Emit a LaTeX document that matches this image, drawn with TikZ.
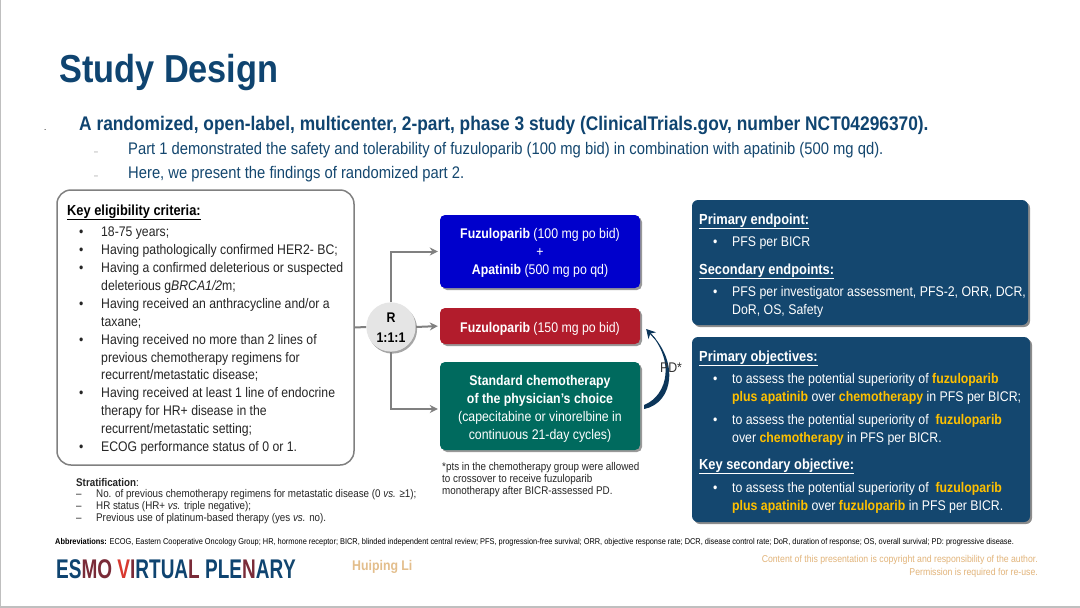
\documentclass[tikz,border=0pt]{standalone}
\usepackage{fontspec}
\setmainfont[FakeStretch=0.88]{Liberation Sans}
\usepackage{array}
\usetikzlibrary{arrows.meta,calc,positioning,shadows}
\definecolor{slidenavy}{HTML}{14476F}
\definecolor{titlenavy}{HTML}{0F4470}
\definecolor{armblue}{HTML}{0000CC}
\definecolor{armred}{HTML}{B21C2C}
\definecolor{armgreen}{HTML}{006A5E}
\definecolor{armgray}{HTML}{808080}
\definecolor{gold}{HTML}{FFC000}
\definecolor{paletan}{HTML}{E3BE8C}
\definecolor{copytan}{HTML}{E2B47A}
\definecolor{logored}{HTML}{D8392F}
\definecolor{logodark}{HTML}{7A2B38}
\newcommand{\fsz}[2]{\fontsize{#1}{#2}\selectfont}
\newcommand{\gld}[1]{\textbf{\textcolor{gold}{#1}}}
\newcommand{\lc}[2]{\textcolor{#1}{#2}}
\newcommand{\nudge}[2]{\raisebox{-#1}[\height][\depth]{\begin{tabular}{@{}c@{}}#2\end{tabular}}}
\tikzset{
  txt/.style={inner sep=0pt,anchor=north west,align=left},
  armbox/.style={rounded corners=5pt,minimum width=200pt,text=white,align=center,inner sep=0pt,
    drop shadow={shadow xshift=2pt,shadow yshift=-2pt,fill=black,opacity=.4}},
  panel/.style={rounded corners=6pt,fill=slidenavy,
    drop shadow={shadow xshift=2pt,shadow yshift=-2pt,fill=black,opacity=.45}},
  armline/.style={armgray,line width=2pt,-{Stealth[length=8pt,width=8pt]},shorten >=2pt},
}
\begin{document}
\begin{tikzpicture}[x=1pt,y=-1pt]
  \useasboundingbox (0,0) rectangle (1080,608);
  \fill[white] (0,0) rectangle (1080,608);
  \fill[black!25] (0,0) rectangle (1,608);
  \fill[black!25] (0,606) rectangle (1080,608);
  % heading block
  \node[txt,anchor=base west,text=titlenavy,font=\fsz{39}{44}\bfseries] (title) at (59,82) {Study Design};
  \node[txt,anchor=base west,text=titlenavy,font=\fsz{19.7}{22}\bfseries] (lead) at (79,130)
    {A randomized, open-label, multicenter, 2-part, phase 3 study (ClinicalTrials.gov, number NCT04296370).};
  \node[txt,anchor=base west,font=\fsz{9}{10}] (leaddot) at (44,130) {.};
  \node[txt,anchor=base west,text=slidenavy,font=\fsz{16.8}{20}] (subone) at (128,154)
    {Part 1 demonstrated the safety and tolerability of fuzuloparib (100 mg bid) in combination with apatinib (500 mg qd).};
  \node[txt,anchor=base west,text=slidenavy,font=\fsz{16.8}{20}] (subtwo) at (128,178)
    {Here, we present the findings of randomized part 2.};
  \node[txt,anchor=base west,text=black!45,font=\fsz{8}{10}] (dashone) at (94,154) {--};
  \node[txt,anchor=base west,text=black!45,font=\fsz{8}{10}] (dashtwo) at (94,178) {--};
  % eligibility box
  \node[draw=armgray,line width=1.5pt,rounded corners=14pt,minimum width=297pt,minimum height=275pt,inner sep=0pt]
    (critbox) at (205.5,327.5) {};
  \node[txt,anchor=base west,font=\fsz{14.6}{18}\bfseries] (crithead) at (67,215) {\underline{Key eligibility criteria:}};
  \node[txt,text=black!85,font=\fsz{13.9}{17.9}] (critlist) at (79,224)
    {\begin{tabular}{@{}p{22pt}@{}l@{}}
      \textbullet & 18-75 years;\\
      \textbullet & Having pathologically confirmed HER2- BC;\\
      \textbullet & Having a confirmed deleterious or suspected\\
                  & deleterious g\textit{BRCA1/2}m;\\
      \textbullet & Having received an anthracycline and/or a\\
                  & taxane;\\
      \textbullet & Having received no more than 2 lines of\\
                  & previous chemotherapy regimens for\\
                  & recurrent/metastatic disease;\\
      \textbullet & Having received at least 1 line of endocrine\\
                  & therapy for HR+ disease in the\\
                  & recurrent/metastatic setting;\\
      \textbullet & ECOG performance status of 0 or 1.
    \end{tabular}};
  % arms
  \node[circle,fill=black!10,minimum size=48pt,inner sep=0pt,align=center,font=\fsz{14}{20}\bfseries,
    drop shadow={shadow xshift=1.5pt,shadow yshift=-2pt,fill=black,opacity=.35}] (randnode) at (391,327)
    {\nudge{1.5pt}{R\\1:1:1}};
  \node[armbox,fill=armblue,minimum height=73pt,font=\fsz{14}{18}] (combobox) at (540,251.5)
    {\nudge{1pt}{\textbf{Fuzuloparib} (100 mg po bid)\\+\\\textbf{Apatinib} (500 mg po qd)}};
  \node[armbox,fill=armred,minimum height=36pt,font=\fsz{14}{18}] (fuzubox) at (540,326)
    {\nudge{2.5pt}{\textbf{Fuzuloparib} (150 mg po bid)}};
  \node[armbox,fill=armgreen,minimum height=88pt,font=\fsz{14}{18}] (chemobox) at (540,406)
    {\nudge{3pt}{\textbf{Standard chemotherapy}\\\textbf{of the physician’s choice}\\(capecitabine or vinorelbine in\\continuous 21-day cycles)}};
  \draw[armgray,line width=2pt] (critbox.east) -- (randnode.west);
  \draw[armline] (randnode.north) |- (combobox.west);
  \draw[armline] (randnode.east) -- (fuzubox.west);
  \draw[armline] (randnode.south) |- ([yshift=-3pt]chemobox.west);
  % crossover arrow, heavier where it leaves the chemotherapy box
  \coordinate (pdstart) at ([xshift=4pt,yshift=-3pt]chemobox.east);
  \coordinate (pdend) at ([xshift=6pt,yshift=-3pt]fuzubox.east);
  \fill[titlenavy!80!black] (pdstart) .. controls ($(pdstart)+(30,-6)$) and ($(pdend)+(34,30)$) .. (pdend)
    .. controls ($(pdend)+(30,30)$) and ($(pdstart)+(24,-14)$) .. ($(pdstart)+(0,-4)$) -- cycle;
  \draw[titlenavy!80!black,line width=1pt,-{Stealth[length=9pt,width=10pt]}]
    ($(pdend)+(9,10)$) -- (pdend);
  \node[inner sep=0pt,anchor=center,font=\fsz{14}{18},text=black!80] (pdlabel) at (671,368) {PD*};
  \node[txt,text=black!85,font=\fsz{11.2}{12}] (crossnote) at (442,462.5)
    {*pts in the chemotherapy group were allowed\\to crossover to receive fuzuloparib\\monotherapy after BICR-assessed PD.};
  % stratification
  \node[txt,text=black!85,font=\fsz{11.15}{11.6}] (stratlist) at (76,478)
    {\begin{tabular}{@{}p{20pt}@{}l@{}}
      \multicolumn{2}{@{}l@{}}{\textbf{Stratification}:}\\
      -- & No. of previous chemotherapy regimens for metastatic disease (0 \textit{vs.} ≥1);\\
      -- & HR status (HR+ \textit{vs.} triple negative);\\
      -- & Previous use of platinum-based therapy (yes \textit{vs.} no).
    \end{tabular}};
  % endpoint panel
  \node[panel,minimum width=336pt,minimum height=125pt,inner sep=0pt] (endpanel) at (860,262.5) {};
  \node[panel,minimum width=338pt,minimum height=185pt,inner sep=0pt] (objpanel) at (861,429.5) {};
  \tikzset{phead/.style={txt,anchor=base west,text=white,font=\fsz{14.6}{18}\bfseries},
    plist/.style={txt,text=white,font=\fsz{14}{18}}}
  \node[phead] (pendhead) at (699,224) {\underline{Primary endpoint:}};
  \node[plist] (pendlist) at (713,234)
    {\begin{tabular}{@{}p{19pt}@{}l@{}}\textbullet & PFS per BICR\end{tabular}};
  \node[phead] (sendhead) at (699,274) {\underline{Secondary endpoints:}};
  \node[plist] (sendlist) at (713,284)
    {\begin{tabular}{@{}p{19pt}@{}l@{}}\textbullet & PFS per investigator assessment, PFS-2, ORR, DCR,\\ & DoR, OS, Safety\end{tabular}};
  \node[phead] (pobjhead) at (699,361) {\underline{Primary objectives:}};
  \node[plist] (pobjone) at (713,371)
    {\begin{tabular}{@{}p{19pt}@{}l@{}}\textbullet & to assess the potential superiority of \gld{fuzuloparib}\\ & \gld{plus apatinib} over \gld{chemotherapy} in PFS per BICR;\end{tabular}};
  \node[plist] (pobjtwo) at (713,412)
    {\begin{tabular}{@{}p{19pt}@{}l@{}}\textbullet & to assess the potential superiority of \ \gld{fuzuloparib}\\ & over \gld{chemotherapy} in PFS per BICR.\end{tabular}};
  \node[phead] (sobjhead) at (699,469) {\underline{Key secondary objective:}};
  \node[plist] (sobjlist) at (713,480)
    {\begin{tabular}{@{}p{19pt}@{}l@{}}\textbullet & to assess the potential superiority of \ \gld{fuzuloparib}\\ & \gld{plus apatinib} over \gld{fuzuloparib} in PFS per BICR.\end{tabular}};
  % footer
  \node[txt,anchor=base west,font=\fsz{8.4}{10}] (abbrev) at (55,544)
    {\textbf{Abbreviations:} ECOG, Eastern Cooperative Oncology Group; HR, hormone receptor; BICR, blinded independent central review; PFS, progression-free survival; ORR, objective response rate; DCR, disease control rate; DoR, duration of response; OS, overall survival; PD: progressive disease.};
  \node[txt,anchor=base west,font=\fsz{27}{30}\bfseries] (logo) at (56,578)
    {\scalebox{0.8}[1]{\lc{titlenavy}{E}\lc{titlenavy}{S}\lc{logodark}{M}\lc{logodark}{O} \lc{logored}{V}\lc{logodark}{I}\lc{titlenavy}{R}\lc{titlenavy}{T}\lc{titlenavy}{U}\lc{titlenavy}{A}\lc{logodark}{L} \lc{titlenavy}{P}\lc{titlenavy}{L}\lc{titlenavy}{E}\lc{logodark}{N}\lc{titlenavy}{A}\lc{titlenavy}{R}\lc{slidenavy}{Y}}};
  \node[txt,anchor=base west,text=paletan,font=\fsz{14}{16}\bfseries] (speaker) at (352,570) {Huiping Li};
  \node[txt,anchor=north east,align=right,text=copytan,font=\fsz{9.9}{12.2}] (copyline) at (1038,555.5)
    {Content of this presentation is copyright and responsibility of the author.\\Permission is required for re-use.};
\end{tikzpicture}
\end{document}
